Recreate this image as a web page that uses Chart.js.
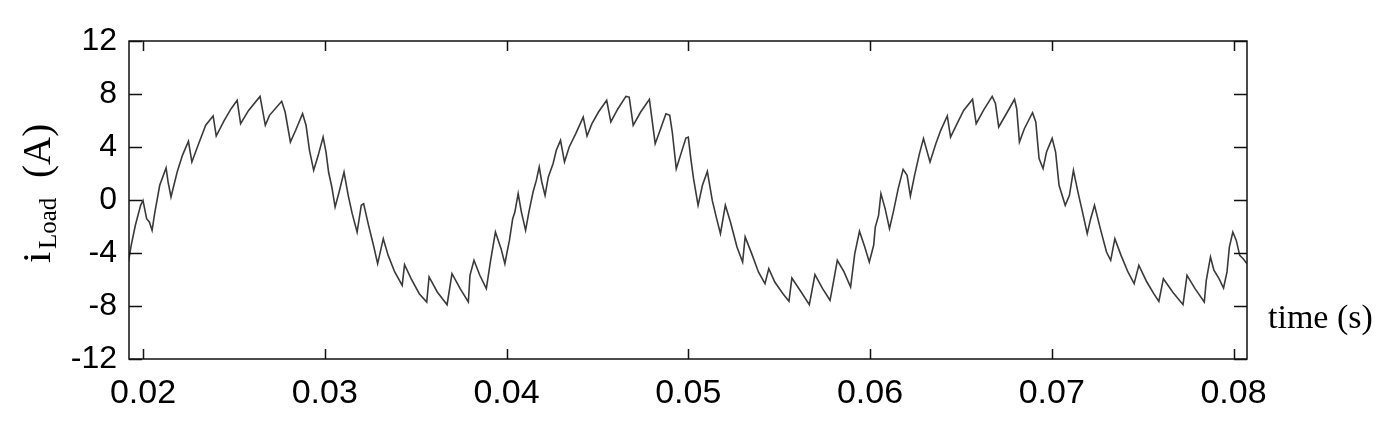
<!DOCTYPE html>
<html>
<head>
<meta charset="utf-8">
<script src="https://cdn.jsdelivr.net/npm/chart.js@4.4.1/dist/chart.umd.min.js"></script>
<style>
  body { margin: 0; background: #fff; }
  #canvas { display: block; }
</style>
</head>
<body>
<canvas id="canvas" width="1399" height="427"></canvas>
<script>
// time (s) and load current (A)
var timeS = [
  0.01920, 0.01935, 0.01958, 0.01987, 0.02000, 0.02020, 0.02035, 0.02050, 0.02064, 0.02092,
  0.02127, 0.02138, 0.02154, 0.02188, 0.02217, 0.02250, 0.02269, 0.02303, 0.02345, 0.02386,
  0.02403, 0.02447, 0.02485, 0.02518, 0.02537, 0.02581, 0.02644, 0.02673, 0.02696, 0.02763,
  0.02782, 0.02811, 0.02840, 0.02878, 0.02897, 0.02916, 0.02939, 0.02964, 0.02991,
  0.03007, 0.03021, 0.03039, 0.03057, 0.03079, 0.03106, 0.03129, 0.03151, 0.03178, 0.03201,
  0.03214, 0.03241, 0.03268, 0.03291, 0.03322, 0.03349, 0.03385, 0.03426, 0.03439, 0.03475,
  0.03520, 0.03561, 0.03574, 0.03619, 0.03673, 0.03700, 0.03745, 0.03790, 0.03799, 0.03821,
  0.03853, 0.03889, 0.03911, 0.03939, 0.03970, 0.03991,
  0.04003, 0.04016, 0.04034, 0.04046, 0.04064, 0.04082, 0.04105, 0.04123, 0.04146, 0.04164,
  0.04180, 0.04194, 0.04212, 0.04230, 0.04256, 0.04274, 0.04297, 0.04319, 0.04345, 0.04381,
  0.04422, 0.04443, 0.04470, 0.04506, 0.04551, 0.04574, 0.04613, 0.04657, 0.04675, 0.04697,
  0.04738, 0.04786, 0.04800, 0.04818, 0.04845, 0.04877, 0.04898, 0.04912, 0.04934, 0.04960,
  0.04987, 0.05000,
  0.05014, 0.05029, 0.05054, 0.05078, 0.05105, 0.05132, 0.05156, 0.05177, 0.05204, 0.05232,
  0.05268, 0.05299, 0.05313, 0.05349, 0.05386, 0.05422, 0.05443, 0.05476, 0.05521, 0.05554,
  0.05570, 0.05621, 0.05666, 0.05697, 0.05739, 0.05780, 0.05802, 0.05820, 0.05857, 0.05893,
  0.05916, 0.05942, 0.05971, 0.05996,
  0.06020, 0.06029, 0.06047, 0.06060, 0.06083, 0.06107, 0.06128, 0.06155, 0.06182, 0.06204,
  0.06222, 0.06245, 0.06272, 0.06294, 0.06330, 0.06362, 0.06389, 0.06425, 0.06443, 0.06479,
  0.06515, 0.06564, 0.06584, 0.06624, 0.06672, 0.06690, 0.06708, 0.06750, 0.06795, 0.06807,
  0.06822, 0.06849, 0.06894, 0.06912, 0.06930, 0.06952, 0.06971, 0.07002,
  0.07021, 0.07040, 0.07074, 0.07097, 0.07119, 0.07144, 0.07169, 0.07195, 0.07214, 0.07235,
  0.07267, 0.07301, 0.07324, 0.07347, 0.07381, 0.07419, 0.07453, 0.07479, 0.07523, 0.07561,
  0.07589, 0.07614, 0.07665, 0.07722, 0.07744, 0.07788, 0.07839, 0.07850, 0.07873, 0.07892,
  0.07920, 0.07945, 0.07964, 0.07977, 0.07996, 0.08015, 0.08034, 0.08053, 0.08074
];
var iLoad = [
  -4.68, -3.42, -1.91, -0.40, -0.03, -1.41, -1.66, -2.29, -1.03, 1.11,
  2.42, 1.36, 0.23, 2.11, 3.37, 4.43, 2.87, 4.13, 5.64, 6.34,
  4.83, 6.01, 6.89, 7.52, 5.76, 6.76, 7.82, 5.64, 6.39, 7.45,
  6.64, 4.38, 5.26, 6.51, 5.64, 3.75, 2.24, 3.37, 4.75,
  3.62, 2.11, 0.98, -0.53, 0.60, 2.11, 0.35, -1.03, -2.42, -0.40,
  -0.28, -1.91, -3.42, -4.81, -2.92, -4.18, -5.43, -6.44, -4.88, -5.94,
  -7.07, -7.70, -5.81, -6.94, -7.90, -5.56, -6.69, -7.70, -5.68, -4.55,
  -5.68, -6.69, -4.68, -2.42, -3.67, -4.81,
  -3.93, -3.05, -1.41, -0.91, 0.48, -0.91, -2.29, -0.91, 0.60, 1.48,
  2.49, 1.36, 0.35, 1.74, 2.74, 3.75, 4.50, 2.87, 4.00, 5.01,
  6.26, 4.83, 5.76, 6.64, 7.52, 5.89, 6.89, 7.82, 7.77, 5.64,
  6.64, 7.60, 6.14, 4.25, 5.26, 6.51, 6.39, 5.13, 2.36, 3.50,
  4.68, 4.75,
  3.12, 1.61, -0.40, 1.11, 2.16, -0.03, -1.41, -2.54, -0.40, -1.66,
  -3.55, -4.68, -2.79, -4.05, -5.43, -6.31, -5.18, -6.19, -7.07, -7.65,
  -5.89, -6.94, -7.90, -5.63, -6.69, -7.57, -5.94, -4.55, -5.43, -6.57,
  -4.05, -2.36, -3.55, -4.68,
  -3.42, -2.04, -1.16, 0.48, -0.65, -2.16, -0.91, 0.86, 2.31, 1.86,
  0.30, 1.86, 3.50, 4.63, 2.87, 4.25, 5.26, 6.34, 4.75, 5.76,
  6.76, 7.60, 5.76, 6.76, 7.82, 7.28, 5.51, 6.51, 7.60, 6.89,
  4.38, 5.38, 6.59, 5.89, 3.12, 2.37, 3.62, 4.65,
  3.62, 1.11, -0.40, 0.35, 2.24, 0.60, -0.91, -2.54, -1.41, -0.40,
  -2.16, -3.93, -4.55, -2.92, -4.18, -5.43, -6.31, -4.93, -6.19, -7.07,
  -7.65, -5.94, -6.94, -7.90, -5.68, -6.69, -7.70, -6.06, -4.30, -5.30,
  -5.94, -6.64, -5.43, -3.55, -2.42, -3.05, -4.18, -4.43, -4.81
];
var xTicks = [0.02, 0.03, 0.04, 0.05, 0.06, 0.07, 0.08];
var yTicks = [-12, -8, -4, 0, 4, 8, 12];

var points = timeS.map(function(t, i) { return { x: t, y: iLoad[i] }; });

// frame with inward tick marks + axis titles (subscript needs manual drawing)
var framePlugin = {
  id: 'frame',
  afterDraw: function(chart) {
    var ctx = chart.ctx, a = chart.chartArea;
    var xs = chart.scales.x, ys = chart.scales.y;
    ctx.save();
    ctx.strokeStyle = '#111';
    ctx.lineWidth = 1.5;
    ctx.strokeRect(a.left, a.top, a.right - a.left, a.bottom - a.top);
    ctx.beginPath();
    xTicks.forEach(function(v) {
      var px = Math.round(xs.getPixelForValue(v)) + 0.5;
      ctx.moveTo(px, a.bottom); ctx.lineTo(px, a.bottom - 10);
      ctx.moveTo(px, a.top); ctx.lineTo(px, a.top + 10);
    });
    yTicks.forEach(function(v) {
      var py = Math.round(ys.getPixelForValue(v)) + 0.5;
      ctx.moveTo(a.left, py); ctx.lineTo(a.left + 13, py);
      ctx.moveTo(a.right, py); ctx.lineTo(a.right - 13, py);
    });
    ctx.stroke();

    ctx.fillStyle = '#000';
    ctx.textBaseline = 'middle';
    ctx.textAlign = 'left';
    ctx.font = '34px "Liberation Serif", "Times New Roman", serif';
    ctx.fillText('time (s)', a.right + 21, ys.getPixelForValue(-9.0));

    // rotated y title: i_Load (A)
    ctx.translate(50, 263);
    ctx.rotate(-Math.PI / 2);
    ctx.textBaseline = 'alphabetic';
    ctx.font = '41px "Liberation Serif", "Times New Roman", serif';
    ctx.fillText('i', 0, 0);
    ctx.font = '25px "Liberation Serif", "Times New Roman", serif';
    ctx.fillText('Load', 14, 6);
    ctx.font = '39px "Liberation Serif", "Times New Roman", serif';
    ctx.fillText('(A)', 85, 0);
    ctx.restore();
  }
};

window.onload = function() {
  var ctx = document.getElementById('canvas').getContext('2d');
  window.myChart = new Chart(ctx, {
    type: 'line',
    data: {
      datasets: [{
        data: points,
        borderColor: '#3a3a3a',
        borderWidth: 1.6,
        pointRadius: 0,
        tension: 0,
        fill: false
      }]
    },
    options: {
      responsive: false,
      animation: false,
      devicePixelRatio: 1,
      layout: { padding: { top: 41, right: 152, left: 0, bottom: 0 } },
      plugins: { legend: { display: false }, tooltip: { enabled: false } },
      scales: {
        x: {
          type: 'linear',
          min: 0.01923,
          max: 0.08074,
          afterBuildTicks: function(s) { s.ticks = xTicks.map(function(v) { return { value: v }; }); },
          afterFit: function(s) { s.height = 68; },
          grid: { display: false, drawTicks: false },
          border: { display: false },
          ticks: {
            color: '#000',
            padding: 14,
            maxRotation: 0,
            autoSkip: false,
            font: { family: '"Liberation Sans", Arial, sans-serif', size: 34 },
            callback: function(v) { return v.toFixed(2); }
          }
        },
        y: {
          min: -12,
          max: 12,
          afterBuildTicks: function(s) { s.ticks = yTicks.map(function(v) { return { value: v }; }); },
          afterFit: function(s) { s.width = 129; },
          grid: { display: false, drawTicks: false },
          border: { display: false },
          ticks: {
            color: '#000',
            padding: 12,
            autoSkip: false,
            font: { family: '"Liberation Sans", Arial, sans-serif', size: 32 },
            callback: function(v) { return String(v); }
          }
        }
      }
    },
    plugins: [framePlugin]
  });
};
</script>
</body>
</html>
